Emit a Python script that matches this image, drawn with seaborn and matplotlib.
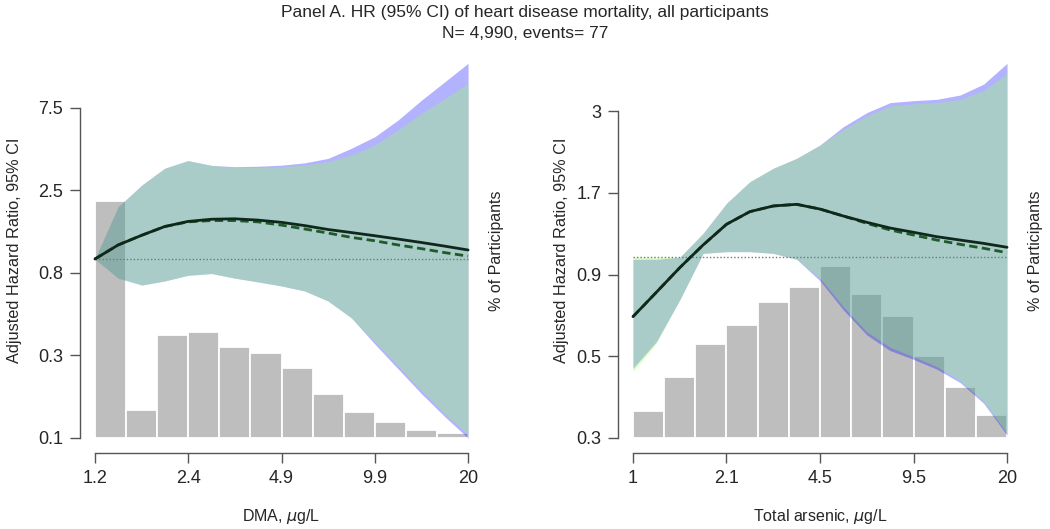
import numpy as np
import matplotlib
matplotlib.use("Agg")
import matplotlib.pyplot as plt
import seaborn as sns

# ---- data ----
# DMA panel (left)
dma_x = [1.2, 1.43, 1.71, 2.03, 2.42, 2.89, 3.44, 4.11, 4.90, 5.84, 6.96, 8.30, 9.90, 11.8, 14.1, 16.8, 20.0]
dma_hr = [1.04, 1.25, 1.42, 1.59, 1.70, 1.75, 1.76, 1.73, 1.68, 1.61, 1.53, 1.47, 1.41, 1.35, 1.29, 1.23, 1.17]
dma_hr2 = [1.04, 1.25, 1.42, 1.59, 1.69, 1.72, 1.72, 1.69, 1.62, 1.54, 1.46, 1.38, 1.32, 1.25, 1.19, 1.13, 1.08]
# model A (blue band) and model B (green band) 95% CI
dma_lo_a = [1.04, 0.81, 0.74, 0.78, 0.84, 0.86, 0.81, 0.77, 0.731, 0.684, 0.600, 0.481, 0.342, 0.247, 0.178, 0.132, 0.100]
dma_hi_a = [1.04, 2.06, 2.74, 3.41, 3.77, 3.54, 3.48, 3.50, 3.55, 3.66, 3.88, 4.43, 5.15, 6.41, 8.33, 10.59, 13.46]
dma_lo_b = [1.04, 0.81, 0.74, 0.78, 0.84, 0.86, 0.81, 0.77, 0.731, 0.684, 0.600, 0.481, 0.351, 0.256, 0.185, 0.137, 0.104]
dma_hi_b = [1.04, 2.06, 2.74, 3.41, 3.77, 3.54, 3.45, 3.45, 3.48, 3.56, 3.72, 4.06, 4.62, 5.63, 7.00, 8.51, 10.36]
dma_ref = 1.04
dma_bin_mid = [1.35, 1.71, 2.16, 2.73, 3.45, 4.36, 5.51, 6.97, 8.81, 11.1, 14.1, 17.8]
dma_pct = [28.97, 3.46, 12.61, 12.94, 11.07, 10.37, 8.54, 5.41, 3.13, 1.91, 0.98, 0.61]
dma_ticks = ["1.2", "2.4", "4.9", "9.9", "20"]
dma_yticks = ["0.1", "0.3", "0.8", "2.5", "7.5"]

# Total arsenic panel (right)
tas_x = [1.0, 1.206, 1.454, 1.754, 2.115, 2.551, 3.076, 3.709, 4.472, 5.393, 6.503, 7.842, 9.457, 11.40, 13.75, 16.59, 20.0]
tas_hr = [0.705, 0.837, 0.995, 1.168, 1.351, 1.477, 1.537, 1.555, 1.504, 1.432, 1.370, 1.316, 1.277, 1.238, 1.209, 1.181, 1.149]
tas_hr2 = [0.705, 0.837, 0.995, 1.168, 1.351, 1.477, 1.537, 1.555, 1.504, 1.432, 1.360, 1.298, 1.253, 1.209, 1.173, 1.141, 1.106]
tas_lo_a = [0.490, 0.591, 0.793, 1.101, 1.114, 1.114, 1.101, 1.056, 0.908, 0.739, 0.620, 0.555, 0.522, 0.487, 0.443, 0.383, 0.306]
tas_hi_a = [1.056, 1.056, 1.071, 1.268, 1.566, 1.824, 2.004, 2.150, 2.361, 2.687, 2.965, 3.182, 3.227, 3.257, 3.358, 3.627, 4.197]
tas_lo_b = [0.479, 0.584, 0.793, 1.101, 1.114, 1.114, 1.101, 1.056, 0.924, 0.756, 0.634, 0.568, 0.532, 0.496, 0.449, 0.388, 0.310]
tas_hi_b = [1.076, 1.070, 1.071, 1.268, 1.566, 1.824, 2.004, 2.150, 2.361, 2.637, 2.896, 3.108, 3.152, 3.182, 3.257, 3.462, 3.912]
tas_ref = 1.076
tas_bin_mid = [1.13, 1.45, 1.87, 2.40, 3.07, 3.95, 5.06, 6.50, 8.34, 10.7, 13.7, 17.6]
tas_pct = [2.27, 5.17, 8.04, 9.58, 11.54, 12.85, 14.67, 12.22, 10.38, 6.96, 4.32, 1.99]
tas_ticks = ["1", "2.1", "4.5", "9.5", "20"]
tas_yticks = ["0.3", "0.5", "0.9", "1.7", "3"]

sns.set_style("white")
plt.rcParams["font.family"] = ["Liberation Sans", "DejaVu Sans"]

fig = plt.figure(figsize=(10.5, 5.29), dpi=100)

BLUE = "#0000ff"
GREEN = "#9bff62"
GREY = "#555555"


def panel(rect, x, hr, hr2, lo_a, hi_a, lo_b, hi_b, ref, bin_mid, pct,
          xt, yt, xrange_, yrange_, ypad, hist_lim, xlabel, ylabpad):
    ax = fig.add_axes(rect)
    axh = ax.twinx()
    ax.set_zorder(2)
    ax.patch.set_visible(False)

    # histogram of participants (behind)
    sns.histplot(x=bin_mid, weights=pct, bins=12, log_scale=True,
                 binrange=(np.log10(xrange_[0]), np.log10(xrange_[1])),
                 color="#bebebe", edgecolor="white", linewidth=1.3,
                 alpha=1, ax=axh)
    axh.set_ylim(*hist_lim)
    axh.set_yticks([])
    axh.set_ylabel("% of Participants", fontsize=11.5, labelpad=4)
    for s in axh.spines.values():
        s.set_visible(False)

    # confidence bands
    ax.fill_between(x, lo_a, hi_a, color=BLUE, alpha=0.3, linewidth=0)
    ax.fill_between(x, lo_b, hi_b, color=GREEN, alpha=0.35, linewidth=0)
    ax.hlines(ref, xrange_[0], xrange_[1], colors="#777777",
              linestyles=(0, (1, 1.5)), linewidth=1)
    sns.lineplot(x=x, y=hr2, ax=ax, color="#1f5a2a", linewidth=2,
                 linestyle=(0, (3, 1.6)))
    sns.lineplot(x=x, y=hr, ax=ax, color="#10281c", linewidth=2)

    ax.set_xscale("log")
    ax.set_yscale("log")
    x0, x1 = xrange_
    y0, y1 = yrange_
    xr = x1 / x0
    yr = y1 / y0
    ax.set_xlim(x0 * xr ** -0.04, x1 * xr ** 0.04)
    ax.set_ylim(y0 * yr ** -ypad[0], y1 * yr ** ypad[1])

    xpos = np.geomspace(x0, x1, 5)
    ypos = np.geomspace(y0, y1, 5)
    ax.xaxis.set_minor_locator(matplotlib.ticker.NullLocator())
    ax.yaxis.set_minor_locator(matplotlib.ticker.NullLocator())
    ax.set_xticks(xpos, xt)
    ax.set_yticks(ypos, yt)
    ax.tick_params(axis="both", direction="out", length=7, width=1,
                   color=GREY, labelsize=13, pad=5, left=True, bottom=True)
    ax.spines["top"].set_visible(False)
    ax.spines["right"].set_visible(False)
    for side in ("left", "bottom"):
        ax.spines[side].set_color(GREY)
        ax.spines[side].set_linewidth(1)
    ax.spines["left"].set_bounds(y0, y1)
    ax.spines["bottom"].set_bounds(x0, x1)
    ax.set_xlabel(xlabel, fontsize=11.5, labelpad=15)
    ax.set_ylabel("Adjusted Hazard Ratio, 95% CI", fontsize=11.7, labelpad=ylabpad)
    return ax


panel([80 / 1050, 76 / 529, 403 / 1050, 405 / 529],
      dma_x, dma_hr, dma_hr2, dma_lo_a, dma_hi_a, dma_lo_b, dma_hi_b, dma_ref,
      dma_bin_mid, dma_pct, dma_ticks, dma_yticks, (1.2, 20), (0.1, 7.5),
      (15 / 330, 60 / 330), (-1.83, 47.6), "DMA, $\\mu$g/L", 12)

panel([618 / 1050, 76 / 529, 404 / 1050, 405 / 529],
      tas_x, tas_hr, tas_hr2, tas_lo_a, tas_hi_a, tas_lo_b, tas_hi_b, tas_ref,
      tas_bin_mid, tas_pct, tas_ticks, tas_yticks, (1, 20), (0.3, 3),
      (15 / 327, 63 / 327), (-1.28, 33.2), "Total arsenic, $\\mu$g/L", 5)

fig.text(0.5, 1 - 13 / 529, "Panel A. HR (95% CI) of heart disease mortality, all participants",
         ha="center", va="center", fontsize=12.5)
fig.text(0.5, 1 - 33 / 529, "N= 4,990, events= 77", ha="center", va="center", fontsize=12.5)

fig.savefig("out.png", dpi=100)
